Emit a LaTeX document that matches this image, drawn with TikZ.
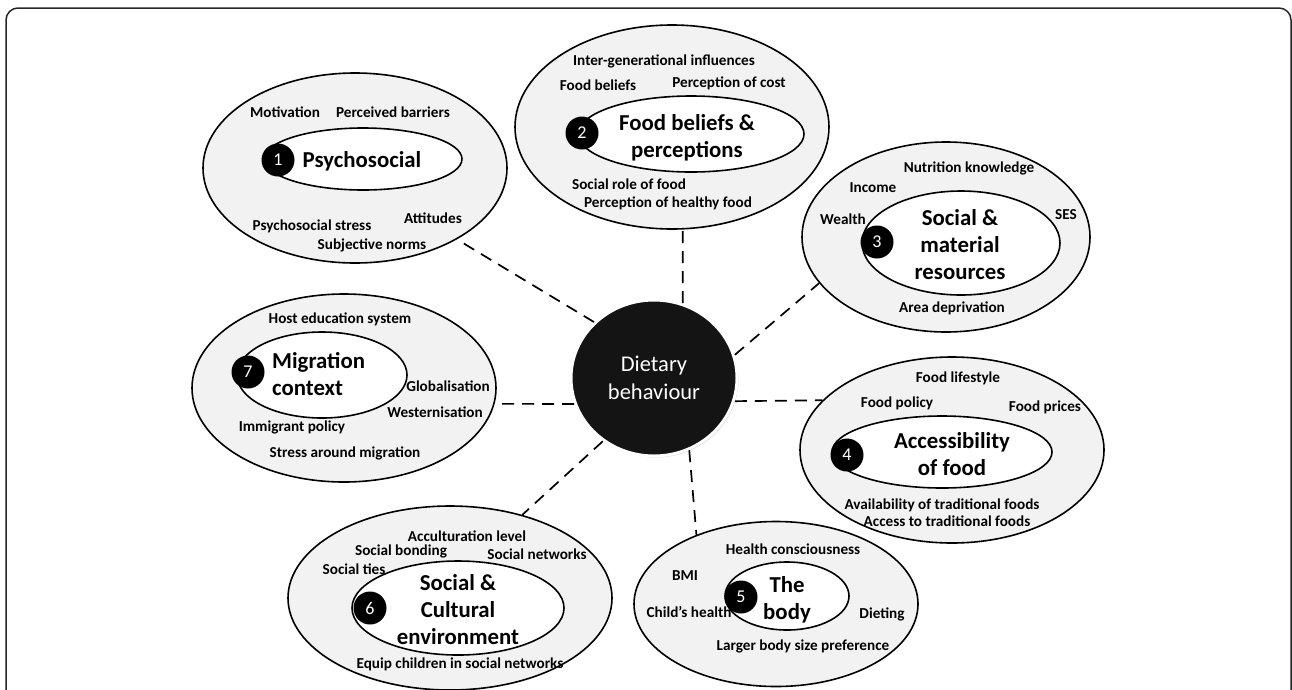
\documentclass[tikz,border=0pt]{standalone}
\usepackage{fontspec}
\setmainfont{Carlito}
\usetikzlibrary{shapes.geometric,shadows}
\tikzset{
  outerell/.style={ellipse, draw=black, line width=1.6pt, fill=gray!10, inner sep=0pt},
  innerell/.style={ellipse, draw=black, line width=1.6pt, fill=white, inner sep=0pt},
  numc/.style={circle, fill=black, text=white, minimum size=33pt, inner sep=0pt,
    font=\fontsize{18}{18}\selectfont},
  lbl/.style={inner sep=0pt, text height=9.6pt, text depth=0pt,
    font=\fontsize{15.2}{17}\selectfont\bfseries},
  ttl/.style={inner sep=0pt, text height=14.6pt, text depth=0pt, align=center,
    font=\fontsize{22.8}{27}\selectfont\bfseries},
  conn/.style={line width=1.7pt, dash pattern=on 12pt off 8pt},
}
\begin{document}
\begin{tikzpicture}[x=1pt,y=-1pt]
\useasboundingbox (0,0) rectangle (1292,689);
% frame
\draw[line width=1.5pt, draw=black!85, rounded corners=12pt] (6,720) -- (6,8) -- (1291,8) -- (1291,720);

% outer ellipses
\node[outerell, minimum width=304pt, minimum height=190pt] (e1) at (355,168) {};
\node[outerell, minimum width=314pt, minimum height=204pt] (e2) at (672,127) {};
\node[outerell, minimum width=288pt, minimum height=190pt] (e3) at (946,237) {};
\node[outerell, minimum width=304pt, minimum height=186pt] (e4) at (952,450) {};
\node[outerell, minimum width=284pt, minimum height=165pt] (e5) at (776,604) {};
\node[outerell, minimum width=324pt, minimum height=184pt] (e6) at (450,598) {};
\node[outerell, minimum width=304pt, minimum height=188pt] (e7) at (344,388) {};

% inner ellipses
\node[innerell, minimum width=198pt, minimum height=62pt] (i1) at (363,159) {};
\node[innerell, minimum width=226pt, minimum height=76pt] (i2) at (691,134) {};
\node[innerell, minimum width=198pt, minimum height=104pt] (i3) at (961,243) {};
\node[innerell, minimum width=220pt, minimum height=72pt] (i4) at (942,452) {};
\node[innerell, minimum width=124pt, minimum height=68pt] (i5) at (787,596) {};
\node[innerell, minimum width=212pt, minimum height=94pt] (i6) at (458,608) {};
\node[innerell, minimum width=170pt, minimum height=86pt] (i7) at (322,375) {};

% number circles
\node[numc] (n1) at (278,160) {1};
\node[numc] (n2) at (582,133) {2};
\node[numc] (n3) at (877,242) {3};
\node[numc] (n4) at (847,455) {4};
\node[numc] (n5) at (741,597) {5};
\node[numc] (n6) at (370,608) {6};
\node[numc] (n7) at (248,372) {7};

% titles (coordinate = middle of the last line)
\node[ttl] (t1) at (362,160) {Psychosocial};
\node[ttl] (t2) at (687,150) {Food beliefs \&\\perceptions};
\node[ttl] (t3) at (960,272) {Social \&\\material\\resources};
\node[ttl] (t4) at (952,468) {Accessibility\\of food};
\node[ttl] (t5) at (787,612) {The\\body};
\node[ttl] (t6) at (458,637) {Social \&\\Cultural\\environment};
\node[ttl, align=left, anchor=west] (t7) at (272,388) {Migration\\context};

% labels 1
\node[lbl] (a1) at (285,113) {Motivation};
\node[lbl] (a2) at (393,113) {Perceived barriers};
\node[lbl] (a3) at (312,226) {Psychosocial stress};
\node[lbl] (a4) at (433,219) {Attitudes};
\node[lbl] (a5) at (372,245) {Subjective norms};
% labels 2
\node[lbl] (b1) at (664,61) {Inter-generational influences};
\node[lbl] (b2) at (598,86) {Food beliefs};
\node[lbl] (b3) at (729,83) {Perception of cost};
\node[lbl] (b4) at (629,185) {Social role of food};
\node[lbl] (b5) at (668,203) {Perception of healthy food};
% labels 3
\node[lbl] (c1) at (969,168) {Nutrition knowledge};
\node[lbl] (c2) at (873,188) {Income};
\node[lbl] (c3) at (843,220) {Wealth};
\node[lbl] (c4) at (1066,215) {SES};
\node[lbl] (c5) at (952,308) {Area deprivation};
% labels 4
\node[lbl] (d1) at (958,378) {Food lifestyle};
\node[lbl] (d2) at (897,403) {Food policy};
\node[lbl] (d3) at (1045,407) {Food prices};
\node[lbl] (d4) at (942,505) {Availability of traditional foods};
\node[lbl] (d5) at (947,522) {Access to traditional foods};
% labels 5
\node[lbl] (f1) at (793,550) {Health consciousness};
\node[lbl] (f2) at (685,576) {BMI};
\node[lbl] (f3) at (689,613) {Child’s health};
\node[lbl] (f4) at (882,614) {Dieting};
\node[lbl] (f5) at (803,646) {Larger body size preference};
% labels 6
\node[lbl] (g1) at (467,537) {Acculturation level};
\node[lbl] (g2) at (401,551) {Social bonding};
\node[lbl] (g3) at (537,555) {Social networks};
\node[lbl] (g4) at (354,570) {Social ties};
\node[lbl] (g5) at (460,664) {Equip children in social networks};
% labels 7
\node[lbl] (h1) at (340,319) {Host education system};
\node[lbl] (h2) at (448,387) {Globalisation};
\node[lbl] (h3) at (435,413) {Westernisation};
\node[lbl] (h4) at (292,427) {Immigrant policy};
\node[lbl] (h5) at (345,453) {Stress around migration};

% central circle
\node[ellipse, minimum width=166pt, minimum height=156pt, fill=black!92, draw=white,
  line width=3pt, text=white, align=center, inner sep=0pt,
  font=\fontsize{22.5}{28}\selectfont,
  drop shadow={shadow xshift=1.5pt, shadow yshift=-1.5pt, opacity=0.35}] (c) at (654,378) {Dietary\\behaviour};

% connectors
\draw[conn] (c.137) -- (e1.-35);
\draw[conn] (c.69) -- (e2.-84);
\draw[conn] (c.16) -- (e3.200);
\draw[conn] (c.-16) -- (e4.159);
\draw[conn] (c.-64) -- (e5.139);
\draw[conn] (c.231) -- (e6.49);
\draw[conn] (c.198) -- (e7.-6);
\end{tikzpicture}
\end{document}
